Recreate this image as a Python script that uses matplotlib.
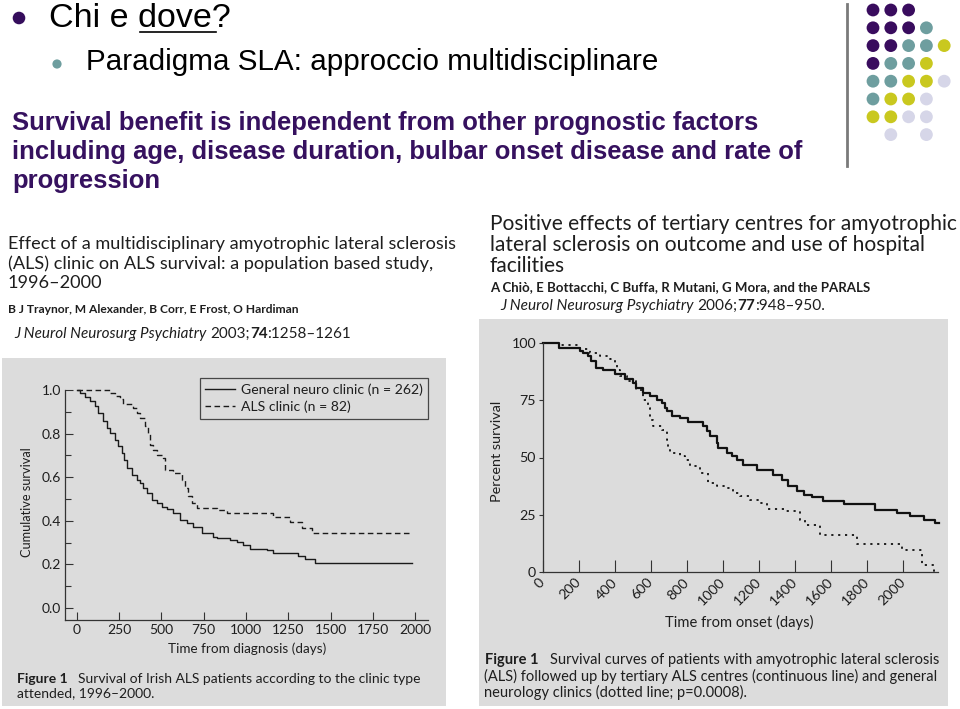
import matplotlib
matplotlib.use('Agg')
import matplotlib.pyplot as plt
from matplotlib.patches import Rectangle, Circle
from matplotlib.lines import Line2D

# ---------------- data ----------------
# Left chart (Traynor 2003): cumulative survival vs time from diagnosis (days)
gen_t = [0, 20, 49, 79, 108, 128, 158, 177, 197, 227, 246, 266, 280, 296, 325, 355, 374, 394,
         414, 443, 473, 502, 532, 571, 611, 650, 690, 739, 808, 827, 906, 946, 985, 1024, 1123,
         1162, 1310, 1349, 1409, 1984]
gen_s = [1.0, 0.988, 0.969, 0.949, 0.926, 0.895, 0.857, 0.826, 0.803, 0.772, 0.741, 0.710, 0.680,
         0.642, 0.611, 0.588, 0.573, 0.550, 0.527, 0.496, 0.481, 0.465, 0.453, 0.435, 0.404, 0.389,
         0.373, 0.343, 0.327, 0.320, 0.312, 0.304, 0.289, 0.270, 0.266, 0.253, 0.238, 0.223, 0.207,
         0.207]
als_t = [0, 177, 197, 227, 256, 276, 335, 355, 374, 404, 424, 433, 453, 473, 512, 522, 571, 621,
         640, 660, 680, 709, 827, 887, 1162, 1261, 1330, 1389, 1984]
als_s = [1.0, 1.0, 0.988, 0.972, 0.957, 0.934, 0.919, 0.896, 0.873, 0.834, 0.803, 0.750, 0.727,
         0.704, 0.688, 0.634, 0.619, 0.588, 0.550, 0.512, 0.481, 0.458, 0.450, 0.438, 0.419, 0.396,
         0.366, 0.343, 0.343]
left_labels = ['General neuro clinic (n = 262)', 'ALS clinic (n = 82)']
left_xticks = [0, 250, 500, 750, 1000, 1250, 1500, 1750, 2000]
left_yticks = [0.0, 0.2, 0.4, 0.6, 0.8, 1.0]

# Right chart (Chio 2006): percent survival vs time from onset (days)
ter_t = [0, 87, 204, 223, 250, 269, 297, 334, 399, 454, 501, 519, 556, 594, 631, 659, 677, 686,
         714, 761, 807, 890, 909, 927, 965, 974, 1020, 1048, 1076, 1113, 1187, 1280, 1326, 1363,
         1410, 1447, 1493, 1558, 1670, 1846, 1966, 2040, 2115, 2180, 2198]
ter_s = [100, 97.8, 96.4, 95.6, 94.2, 92.0, 89.1, 88.1, 86.6, 84.3, 82.5, 80.3, 78.2, 76.7, 75.3,
         73.8, 71.6, 70.2, 68.3, 67.2, 65.4, 63.9, 61.4, 59.2, 56.3, 54.1, 52.0, 50.5, 49.1, 46.9,
         44.4, 42.5, 40.3, 37.7, 35.2, 33.8, 32.8, 30.9, 29.8, 27.2, 25.8, 24.3, 22.6, 21.4, 21.4]
gnc_t = [0, 93, 204, 260, 315, 371, 399, 412, 427, 464, 519, 556, 584, 594, 612, 659, 686, 696,
         705, 761, 788, 816, 872, 918, 965, 1020, 1057, 1094, 1150, 1206, 1243, 1336, 1428, 1456,
         1540, 1744, 1994, 2105, 2174]
gnc_s = [100, 99.3, 97.4, 95.6, 94.5, 93.0, 91.3, 88.4, 85.4, 83.3, 79.6, 75.3, 71.6, 66.5, 63.6,
         62.2, 57.8, 54.1, 52.0, 50.5, 49.1, 46.1, 43.2, 38.9, 37.7, 36.7, 34.5, 33.0, 31.6, 30.1,
         27.5, 26.5, 22.9, 20.7, 16.3, 12.4, 9.8, 3.2, 0.0]
right_xticks = [0, 200, 400, 600, 800, 1000, 1200, 1400, 1600, 1800, 2000]
right_yticks = [0, 25, 50, 75, 100]

# ---------------- figure helpers ----------------
W, H = 960, 709
fig = plt.figure(figsize=(9.6, 7.09), dpi=100)
fig.patch.set_facecolor('white')
R = fig.canvas.get_renderer()

def fx(x):
    return x / W

def fy(y):
    return 1 - y / H

JF = 'Lato'
SF = 'Liberation Sans'
TXT = '#1e1e1e'

def measure(s, size, **kw):
    t = fig.text(0, 0, s, fontsize=size, **kw)
    w = t.get_window_extent(R).width
    t.remove()
    return w

def fit_size(s, width, **kw):
    return 20 * width / measure(s, 20, **kw)

def dot(x, y, r, color):
    fig.add_artist(Circle((x / 100, (H - y) / 100), r / 100, transform=fig.dpi_scale_trans,
                          color=color, zorder=5, lw=0))

def seg_layout(segs, size, family):
    out = []
    cx = 0
    for s, o in segs:
        kw = dict(family=family, **o)
        n = len(s) - len(s.lstrip(' '))
        if n:
            sp = measure('a a', size, **kw) - measure('aa', size, **kw)
            cx += n * sp
            s = s.lstrip(' ')
        out.append((cx, s, kw))
        cx += measure(s, size, **kw)
    return out, cx

def seg_text(x, y, segs, width=None, size=12, family=JF, color=TXT):
    if width is not None:
        _, w = seg_layout(segs, 20, family)
        size = 20 * width / w
    out, _ = seg_layout(segs, size, family)
    for cx, s, kw in out:
        fig.text(fx(x + cx), fy(y), s, fontsize=size, color=color, va='baseline', ha='left', **kw)
    return size

def block(x, ys, lines, width_line, width, family=JF, color=TXT, **kw):
    size = fit_size(lines[width_line], width, family=family, **kw)
    for yy, s in zip(ys, lines):
        fig.text(fx(x), fy(yy), s, fontsize=size, family=family, color=color,
                 va='baseline', ha='left', **kw)
    return size

# ---------------- slide header ----------------
dot(19, 18, 6.3, '#350d5c')
s = fit_size('Chi e dove?', 181, family=SF)
fig.text(fx(49), fy(27), 'Chi e dove?', fontsize=s, family=SF, color='black', va='baseline')
fig.add_artist(Line2D([fx(140), fx(216)], [fy(32), fy(32)], color='black', lw=1.2,
                      transform=fig.transFigure))
dot(57, 64, 4.6, '#6e9e9f')
s = fit_size('Paradigma SLA: approccio multidisciplinare', 571, family=SF)
fig.text(fx(86), fy(70), 'Paradigma SLA: approccio multidisciplinare', fontsize=s, family=SF,
         color='black', va='baseline')

bold_lines = ['Survival benefit is independent from other prognostic factors',
              'including age, disease duration, bulbar onset disease and rate of',
              'progression']
block(12, [130, 159, 188], bold_lines, 1, 790, family=SF, color='#36115f', weight='bold')

# vertical rule + dot grid
fig.add_artist(Line2D([fx(847), fx(847)], [fy(4), fy(166)], color='#7a7a7a', lw=2,
                      transform=fig.transFigure))
dot_colors = {'P': '#390c5e', 'T': '#6e9e9f', 'Y': '#c9c81f', 'L': '#d6d6e8'}
dot_rows = ['PPP..', 'PPPT.', 'PPTTY', 'PTTY.', 'TTYYL', 'TYYL.', 'YYLL.', '.L.L.']
for r, row in enumerate(dot_rows):
    for c, ch in enumerate(row):
        if ch != '.':
            dot(873 + c * 17.8, 10 + r * 17.8, 6.4, dot_colors[ch])

# ---------------- article headers ----------------
block(8, [249, 269, 288],
      ['Effect of a multidisciplinary amyotrophic lateral sclerosis',
       '(ALS) clinic on ALS survival: a population based study,',
       '1996\u20132000'], 0, 449)
s = fit_size('B J Traynor, M Alexander, B Corr, E Frost, O Hardiman', 290, family=JF, weight='bold')
fig.text(fx(8), fy(313), 'B J Traynor, M Alexander, B Corr, E Frost, O Hardiman', fontsize=s,
         family=JF, weight='bold', color=TXT, va='baseline')
seg_text(14, 338, [('J Neurol Neurosurg Psychiatry', dict(style='italic')),
                   (' 2003;', {}), ('74', dict(weight='bold')), (':1258\u20131261', {})],
         width=336)

block(490, [230, 251, 272],
      ['Positive effects of tertiary centres for amyotrophic',
       'lateral sclerosis on outcome and use of hospital',
       'facilities'], 0, 468)
s = fit_size('A Chi\u00f2, E Bottacchi, C Buffa, R Mutani, G Mora, and the PARALS', 381,
             family=JF, weight='bold')
fig.text(fx(490), fy(291), 'A Chi\u00f2, E Bottacchi, C Buffa, R Mutani, G Mora, and the PARALS',
         fontsize=s, family=JF, weight='bold', color=TXT, va='baseline')
seg_text(500, 310, [('J Neurol Neurosurg Psychiatry', dict(style='italic')),
                    (' 2006;', {}), ('77', dict(weight='bold')), (':948\u2013950.', {})],
         width=325)

# gray panels
GRAY = '#dcdcdc'
fig.add_artist(Rectangle((fx(2), fy(706)), 444 / W, 348 / H, transform=fig.transFigure,
                         facecolor=GRAY, edgecolor='none', zorder=-10))
fig.add_artist(Rectangle((fx(479), fy(706)), 469 / W, 387 / H, transform=fig.transFigure,
                         facecolor=GRAY, edgecolor='none', zorder=-10))

# ---------------- left chart ----------------
ax1 = fig.add_axes([fx(65), fy(620), (428 - 65) / W, (620 - 390) / H])
ax1.set_facecolor('none')
l1, = ax1.plot(gen_t, gen_s, drawstyle='steps-post', color='#1a1a1a', lw=1.0, clip_on=False,
               label=left_labels[0])
l2, = ax1.plot(als_t, als_s, drawstyle='steps-post', color='#1a1a1a', lw=1.0, clip_on=False,
               ls=(0, (4, 2.5)), label=left_labels[1])
ax1.set_xlim(-69, 2076)
ax1.set_ylim(-0.055, 1.0)
for sp in ['top', 'right']:
    ax1.spines[sp].set_visible(False)
for sp in ['left', 'bottom']:
    ax1.spines[sp].set_color('#333333')
    ax1.spines[sp].set_linewidth(0.9)
ax1.set_xticks(left_xticks)
ax1.set_xticklabels([str(v) for v in left_xticks])
ax1.set_yticks(left_yticks)
ax1.set_yticklabels([f'{v:.1f}' for v in left_yticks])
ax1.set_yticks([0.1, 0.3, 0.5, 0.7, 0.9], minor=True)
ax1.tick_params(axis='both', which='major', direction='in', length=6, width=0.8,
                color='#333333', labelsize=10, labelcolor=TXT, pad=3)
ax1.tick_params(axis='y', which='minor', direction='in', length=4, width=0.8, color='#333333')
for lab in ax1.get_xticklabels() + ax1.get_yticklabels():
    lab.set_family(JF)
leg_size = fit_size(left_labels[0], 182, family=JF)
leg = ax1.legend(handles=[l1, l2], loc='upper right', bbox_to_anchor=(fx(428), fy(378)),
                 bbox_transform=fig.transFigure, borderaxespad=0, fancybox=False,
                 frameon=True, edgecolor='#222222', facecolor='none',
                 prop={'family': JF, 'size': leg_size}, handlelength=2.1, handletextpad=0.4,
                 borderpad=0.4, labelspacing=0.3)
leg.get_frame().set_linewidth(0.9)
for t in leg.get_texts():
    t.set_color(TXT)

s = fit_size('Time from diagnosis (days)', 157, family=JF)
fig.text(fx(247), fy(653), 'Time from diagnosis (days)', fontsize=s, family=JF, color=TXT,
         ha='center', va='baseline')
s = fit_size('Cumulative survival', 110, family=JF)
fig.text(fx(27), fy(502), 'Cumulative survival', fontsize=s, family=JF, color=TXT,
         ha='center', va='center', rotation=90)

seg_text(17, 683, [('Figure 1', dict(weight='bold')),
                   ('   Survival of Irish ALS patients according to the clinic type', {})],
         width=403)
s = fit_size('Figure 1   Survival of Irish ALS patients according to the clinic type', 403,
             family=JF)
fig.text(fx(17), fy(697), 'attended, 1996\u20132000.', fontsize=s, family=JF, color=TXT,
         va='baseline')

# ---------------- right chart ----------------
ax2 = fig.add_axes([fx(543), fy(572), (938 - 543) / W, (572 - 343) / H])
ax2.set_facecolor('none')
ax2.plot(ter_t, ter_s, drawstyle='steps-post', color='#111111', lw=1.6, clip_on=False)
ax2.plot(gnc_t, gnc_s, drawstyle='steps-post', color='#111111', lw=1.3, clip_on=False,
         ls=(0, (1.2, 2.6)))
ax2.set_xlim(0, 2194)
ax2.set_ylim(0, 100)
for sp in ['top', 'right']:
    ax2.spines[sp].set_visible(False)
for sp in ['left', 'bottom']:
    ax2.spines[sp].set_color('#333333')
    ax2.spines[sp].set_linewidth(0.9)
ax2.set_xticks(right_xticks)
ax2.set_xticklabels([str(v) for v in right_xticks], rotation=45, ha='right', va='center',
                    rotation_mode='anchor')
ax2.set_yticks(right_yticks)
ax2.set_yticklabels([str(v) for v in right_yticks])
ax2.tick_params(axis='x', direction='in', length=8.5, width=0.8, color='#333333',
                labelsize=10.3, labelcolor=TXT, pad=6)
ax2.tick_params(axis='y', direction='out', length=3, width=0.8, color='#333333',
                labelsize=10.3, labelcolor=TXT, pad=2)
for lab in ax2.get_xticklabels() + ax2.get_yticklabels():
    lab.set_family(JF)

s = fit_size('Time from onset (days)', 148, family=JF)
fig.text(fx(739), fy(627), 'Time from onset (days)', fontsize=s, family=JF, color=TXT,
         ha='center', va='baseline')
s = fit_size('Percent survival', 102, family=JF)
fig.text(fx(497), fy(451), 'Percent survival', fontsize=s, family=JF, color=TXT,
         ha='center', va='center', rotation=90)

cap = ['Figure 1   Survival curves of patients with amyotrophic lateral sclerosis',
       '(ALS) followed up by tertiary ALS centres (continuous line) and general',
       'neurology clinics (dotted line; p=0.0008).']
csize = seg_text(485, 664, [('Figure 1', dict(weight='bold')),
                            ('   Survival curves of patients with amyotrophic lateral sclerosis',
                             {})], width=453)
fig.text(fx(484), fy(681), cap[1], fontsize=csize, family=JF, color=TXT, va='baseline')
fig.text(fx(484), fy(697), cap[2], fontsize=csize, family=JF, color=TXT, va='baseline')

fig.savefig('out.png', dpi=100, facecolor='white')
